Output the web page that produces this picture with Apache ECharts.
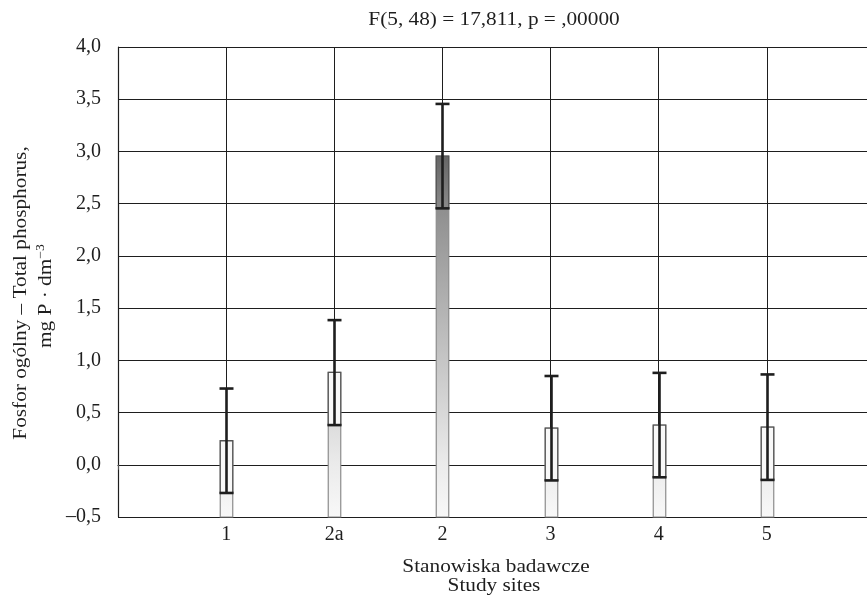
<!DOCTYPE html>
<html><head><meta charset="utf-8">
<script src="https://cdn.jsdelivr.net/npm/echarts@6/dist/echarts.min.js"></script>
<style>html,body{margin:0;padding:0;background:#fff;overflow:hidden}#c{width:867px;height:601px}</style>
</head><body><div id="c"></div>
<script>
const categories = ['1', '2a', '2', '3', '4', '5'];
const means = [0.23, 0.885, 2.955, 0.35, 0.38, 0.36];
const lower = [-0.27, 0.38, 2.455, -0.15, -0.12, -0.145];
const upper = [0.73, 1.385, 3.455, 0.85, 0.88, 0.865];
const yTickLabels = ['–0,5', '0,0', '0,5', '1,0', '1,5', '2,0', '2,5', '3,0', '3,5', '4,0'];
const titleText = 'F(5, 48) = 17,811, p = ,00000';
const yName1 = 'Fosfor ogólny – Total phosphorus,';
const yName2 = 'mg P · dm';
const yName2Sup = '−3';
const xName1 = 'Stanowiska badawcze';
const xName2 = 'Study sites';

const FONT = '"Liberation Serif", "Times New Roman", serif';
const TXT = '#1e1e1e';
const SX = 1.15;
const chart = echarts.init(document.getElementById('c'), null, { renderer: 'canvas' });
const data = categories.map((c, i) => [i + 1, means[i], lower[i], upper[i]]);

function renderItem(params, api) {
  const x = api.value(0), m = api.value(1), lo = api.value(2), hi = api.value(3);
  const base = api.coord([x, -0.5]);
  const top = api.coord([x, m]);
  const pLo = api.coord([x, lo]);
  const pHi = api.coord([x, hi]);
  const g0 = api.coord([x, 2.95])[1];
  const gZero = api.coord([x, 0])[1];
  const gBox = api.coord([x, 0.9])[1];
  const w = 12.5, cap = 14;
  const cx = Math.round(top[0]) + 0.5;
  const zOff = (gZero - g0) / (base[1] - g0);
  const barGrad = new echarts.graphic.LinearGradient(0, g0, 0, base[1],
    [{ offset: 0, color: '#7c7c7c' }, { offset: zOff, color: '#ebebeb' }, { offset: 1, color: '#f8f8f8' }], true);
  const boxGrad = new echarts.graphic.LinearGradient(0, g0, 0, gBox,
    [{ offset: 0, color: '#666666' }, { offset: 1, color: '#f8f8f8' }], true);
  return {
    type: 'group',
    children: [
      { type: 'rect', shape: { x: cx - w / 2, y: top[1], width: w, height: base[1] - top[1] },
        style: { fill: barGrad, stroke: '#8c8c8c', lineWidth: 1.2 } },
      { type: 'rect', shape: { x: cx - w / 2, y: top[1], width: w, height: pLo[1] - top[1] },
        style: { fill: boxGrad, stroke: '#555', lineWidth: 1.3 } },
      { type: 'line', shape: { x1: cx, y1: pLo[1], x2: cx, y2: pHi[1] },
        style: { stroke: '#1e1e1e', lineWidth: 2.6 } },
      { type: 'line', shape: { x1: cx - cap / 2, y1: pHi[1], x2: cx + cap / 2, y2: pHi[1] },
        style: { stroke: '#1e1e1e', lineWidth: 2.6 } },
      { type: 'line', shape: { x1: cx - cap / 2, y1: pLo[1], x2: cx + cap / 2, y2: pLo[1] },
        style: { stroke: '#1e1e1e', lineWidth: 2.6 } }
    ]
  };
}

function gText(x, y, text, rot) {
  return { type: 'text', x: x, y: y, rotation: rot || 0, scaleX: SX,
    style: { text: text, fontFamily: FONT, fontSize: 18.5, fontWeight: 'normal', fill: TXT, align: 'center', verticalAlign: 'middle' } };
}

chart.setOption({
  animation: false,
  backgroundColor: '#fff',
  grid: { left: 118, width: 757, top: 47, bottom: 84, outerBoundsMode: 'none', containLabel: false },
  xAxis: {
    type: 'value', min: 0, max: 7, interval: 1,
    axisLine: { show: true, lineStyle: { color: '#1e1e1e', width: 1.2 } },
    axisTick: { show: true, length: 5, lineStyle: { color: '#555' } },
    axisLabel: { formatter: v => categories[v - 1] || '', fontFamily: FONT, fontSize: 20, color: TXT, margin: 8 },
    splitLine: { show: true, lineStyle: { color: '#1e1e1e', width: 1 } }
  },
  yAxis: {
    type: 'value', min: -0.5, max: 4, interval: 0.5,
    axisLine: { show: true, lineStyle: { color: '#1e1e1e', width: 1.2 } },
    axisTick: { show: false },
    axisLabel: { formatter: v => yTickLabels[Math.round((v + 0.5) / 0.5)], fontFamily: FONT, fontSize: 20, color: TXT, margin: 17 },
    splitLine: { show: true, lineStyle: { color: '#1e1e1e', width: 1 } }
  },
  graphic: [
    gText(494, 20, titleText),
    gText(496, 567, xName1),
    gText(494, 586, xName2),
    gText(21, 293, yName1, Math.PI / 2),
    { type: 'text', x: 46, y: 296, rotation: Math.PI / 2, scaleX: SX, style: {
        text: '{a|' + yName2 + '}{s|' + yName2Sup + '}', align: 'center', verticalAlign: 'middle',
        fontFamily: FONT, fontSize: 18.5, fontWeight: 'normal', fill: TXT,
        rich: { a: { fontFamily: FONT, fontSize: 18.5, fontWeight: 'normal', color: TXT, lineHeight: 22 },
                s: { fontFamily: FONT, fontSize: 12, fontWeight: 'normal', color: TXT, verticalAlign: 'top', lineHeight: 22 } } } }
  ],
  series: [{ type: 'custom', renderItem: renderItem, data: data, encode: { x: 0, y: [1, 2, 3] }, z: 5, clip: false }]
});
</script></body></html>
